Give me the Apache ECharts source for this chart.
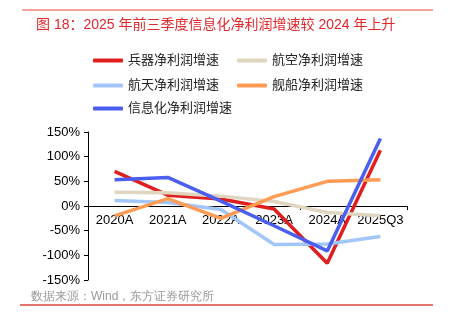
<!DOCTYPE html>
<html>
<head>
<meta charset="utf-8">
<script src="https://cdn.jsdelivr.net/npm/echarts@6/dist/echarts.min.js"></script>
<style>html,body{margin:0;padding:0;background:#fff;}#c{width:450px;height:329px;}</style>
</head>
<body>
<div id="c"></div>
<script>
const categories = ['2020A', '2021A', '2022A', '2023A', '2024A', '2025Q3'];
const seriesNames = ['兵器净利润增速', '航空净利润增速', '航天净利润增速', '舰船净利润增速', '信息化净利润增速'];
const weapons = [70, 22, 14, -6, -116, 113];
const aviation = [28, 27, 20, 9, -13, -20];
const aerospace = [11, 7, -7, -78, -77, -62];
const shipbuilding = [-20, 15, -25, 19, 50, 53];
const informatization = [53, 58, 10, -40, -91, 137];
const yTicks = [-150, -100, -50, 0, 50, 100, 150];
const colors = ['#e01e1e', '#e0d6c0', '#a3c6fa', '#ff9b52', '#4a5ef0'];

const FONT = '"Liberation Sans", Arial, "Noto Sans CJK SC", sans-serif';
const allData = [weapons, aviation, aerospace, shipbuilding, informatization];

const chart = echarts.init(document.getElementById('c'), null, {renderer: 'canvas'});
const legendBase = {
  left: 88, icon: 'roundRect', itemWidth: 30, itemHeight: 4, itemGap: 18,
  textStyle: {fontSize: 13, color: '#222', fontFamily: FONT},
  selectedMode: false
};
const yMin = yTicks[0], yMax = yTicks[yTicks.length - 1];
const gridTop = 132, gridBottomY = 280;
const zeroOffset = -(gridBottomY - (gridTop + (yMax / (yMax - yMin)) * (gridBottomY - gridTop)));
const option = {
  animation: false,
  backgroundColor: '#fff',
  title: {
    text: '图 18：2025 年前三季度信息化净利润增速较 2024 年上升',
    left: 31, top: 13,
    textStyle: {fontSize: 14, fontWeight: 'normal', color: '#e3262a', fontFamily: FONT}
  },
  legend: [
    Object.assign({}, legendBase, {top: 49, data: [seriesNames[0], seriesNames[1]]}),
    Object.assign({}, legendBase, {top: 74, data: [seriesNames[2], seriesNames[3]]}),
    Object.assign({}, legendBase, {top: 97, data: [seriesNames[4]]})
  ],
  grid: {left: 88, right: 43, top: gridTop, bottom: 329 - gridBottomY, containLabel: false},
  xAxis: [{
    type: 'category',
    data: categories,
    boundaryGap: true,
    axisLine: {onZero: true, lineStyle: {color: '#000', width: 1}},
    axisTick: {show: true, length: 4, lineStyle: {color: '#000'}},
    axisLabel: {show: false},
    splitLine: {show: false}
  }, {
    type: 'category',
    data: categories,
    position: 'bottom',
    offset: zeroOffset,
    boundaryGap: true,
    axisLine: {show: false, onZero: false},
    axisTick: {show: false},
    axisLabel: {interval: 0, fontSize: 13, color: '#000', margin: 8, fontFamily: FONT},
    splitLine: {show: false}
  }],
  yAxis: {
    type: 'value',
    min: yMin, max: yMax, interval: 50,
    axisLine: {show: true, lineStyle: {color: '#000', width: 1}},
    axisTick: {show: true, length: 4, lineStyle: {color: '#000'}},
    axisLabel: {fontSize: 13, color: '#000', margin: 8, fontFamily: FONT, formatter: '{value}%'},
    splitLine: {show: false}
  },
  series: seriesNames.map((n, i) => ({
    name: n, type: 'line', data: allData[i], symbol: 'none', showSymbol: false, xAxisIndex: 0,
    lineStyle: {width: 3.5, color: colors[i]}, itemStyle: {color: colors[i]}
  })),
  graphic: [
    {type: 'line', shape: {x1: 22, y1: 10, x2: 433, y2: 10}, style: {stroke: '#f4a39b', lineWidth: 2}},
    {type: 'text', left: 31, top: 291, style: {text: '数据来源：Wind，东方证券研究所', fontSize: 12, fill: '#999999', font: '12px "Liberation Sans", "Noto Sans CJK SC", sans-serif'}},
    {type: 'line', shape: {x1: 20, y1: 305, x2: 433, y2: 305}, style: {stroke: '#d9473c', lineWidth: 1.5}}
  ]
};
chart.setOption(option);
</script>
</body>
</html>
